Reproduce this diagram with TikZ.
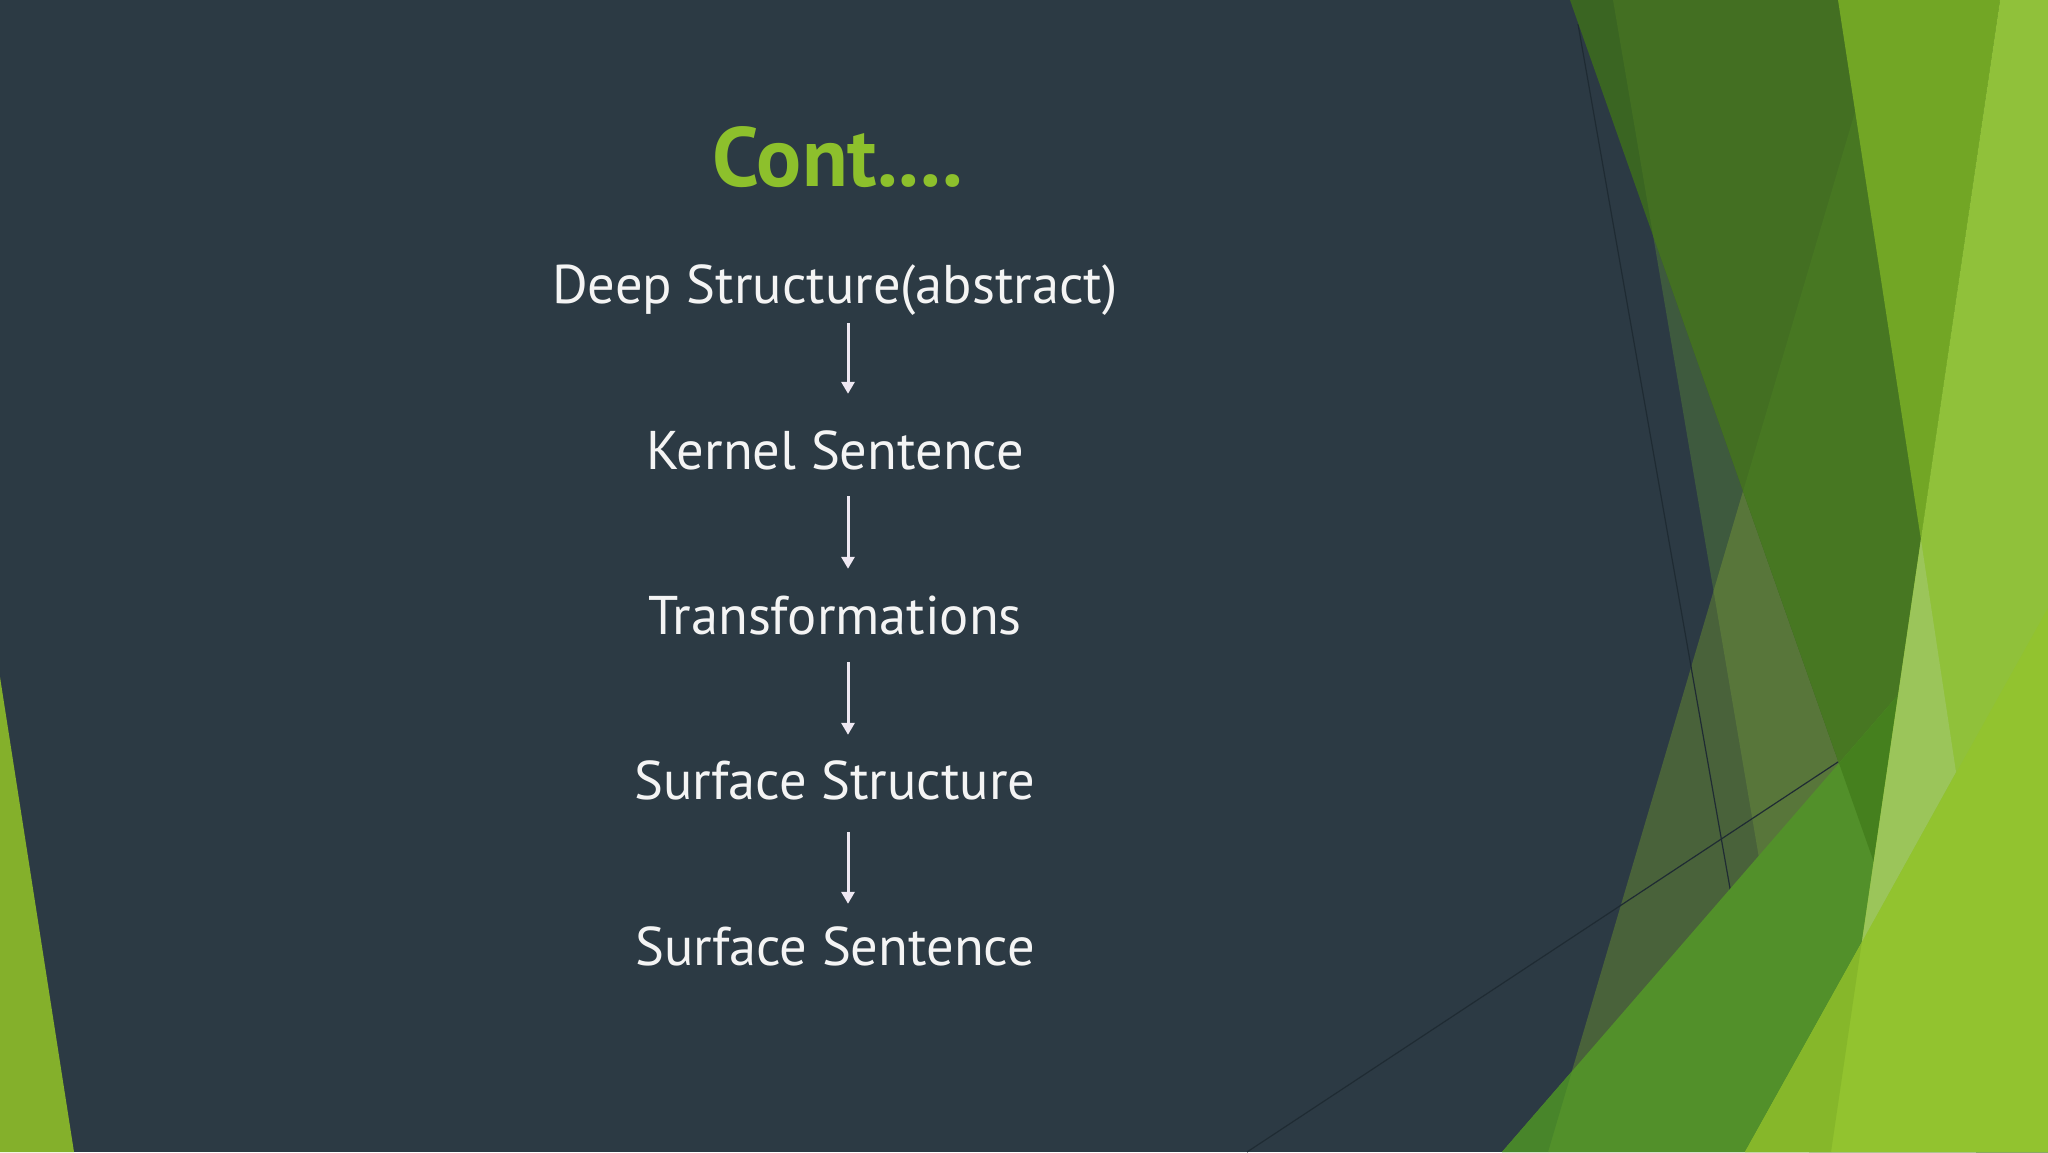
\documentclass[tikz,border=0pt]{standalone}
\usepackage{fontspec}
\setmainfont{PT Sans}
\usepackage{tikz}
\usetikzlibrary{arrows.meta,calc}
\definecolor{slate}{HTML}{2C3A44}
\definecolor{leafL}{HTML}{84B02B}
\definecolor{veilB}{HTML}{3E5A3E}
\definecolor{veilL}{HTML}{49623A}
\definecolor{veilBL}{HTML}{58763A}
\definecolor{forestA}{HTML}{3A6522}
\definecolor{forestB}{HTML}{436F22}
\definecolor{forestC}{HTML}{477722}
\definecolor{grassG}{HTML}{52902A}
\definecolor{grassGL}{HTML}{48852A}
\definecolor{grassGA}{HTML}{45801E}
\definecolor{midM}{HTML}{72A625}
\definecolor{limeC}{HTML}{90C13A}
\definecolor{paleW}{HTML}{9BC55A}
\definecolor{limeT}{HTML}{92C32F}
\definecolor{limeTC}{HTML}{86B72A}
\definecolor{titlegreen}{HTML}{8DC02C}
\definecolor{txtwhite}{HTML}{F4F4F4}
\definecolor{arrowwhite}{HTML}{EEE8F2}
\definecolor{hairline}{HTML}{1F2B33}

\begin{document}
\begin{tikzpicture}[x=1pt,y=-1pt,
  title/.style={text=titlegreen,font=\fontsize{84}{96}\selectfont\bfseries,anchor=base,inner sep=0},
  item/.style={text=txtwhite,font=\fontsize{54.5}{62}\selectfont,anchor=base,inner sep=0,
    text height=40pt,text depth=14pt},
  flow/.style={draw=arrowwhite,line width=3pt,-{Triangle[width=13pt,length=12pt]}},
  hair/.style={draw=hairline,line width=1.2pt}]
\useasboundingbox (0,0) rectangle (2048,1152);
\fill[slate] (0,0) rectangle (2048,1152);
\fill[leafL] (0,677) -- (74,1152) -- (0,1152) -- cycle;

\fill[veilB] (1613,0) -- (1809,1152) -- (2048,1152) -- (2048,0) -- cycle;
\fill[veilL] (1888,0) -- (1548,1152) -- (2048,1152) -- (2048,0) -- cycle;
\begin{scope}
\clip (1613,0) -- (1809,1152) -- (2048,1152) -- (2048,0) -- cycle;
\fill[veilBL] (1888,0) -- (1548,1152) -- (2048,1152) -- (2048,0) -- cycle;
\end{scope}
\draw[hair] (1578,24) -- (1731,894);
\draw[hair] (1247,1152) -- (1841,760);
\fill[forestA] (1570,0) -- (1976,1152) -- (2048,1152) -- (2048,0) -- cycle;
\begin{scope}
\clip (1570,0) -- (1976,1152) -- (2048,1152) -- (2048,0) -- cycle;
\fill[forestB] (1613,0) -- (1809,1152) -- (2048,1152) -- (2048,0) -- cycle;
\fill[forestC] (1888,0) -- (1548,1152) -- (2048,1152) -- (2048,0) -- cycle;
\end{scope}

\fill[grassG] (2048,522) -- (1502,1152) -- (2048,1152) -- cycle;
\begin{scope}
\clip (2048,522) -- (1502,1152) -- (2048,1152) -- cycle;
\fill[grassGL] (0,0) -- (1888,0) -- (1548,1152) -- (0,1152) -- cycle;
\fill[grassGA] (1570,0) -- (1976,1152) -- (2048,1152) -- (2048,0) -- cycle;
\end{scope}

\fill[midM] (1838,0) -- (2000,0) -- (1921,540) -- cycle;
\fill[limeC] (2000,0) -- (2048,0) -- (2048,1152) -- (1831,1152) -- cycle;
\fill[paleW] (1921,540) -- (1956,772) -- (1862,942) -- cycle;
\fill[limeT] (2048,608) -- (2048,1152) -- (1745,1152) -- cycle;
\begin{scope}
\clip (2048,608) -- (2048,1152) -- (1745,1152) -- cycle;
\fill[limeTC] (0,0) -- (2000,0) -- (1831,1152) -- (0,1152) -- cycle;
\end{scope}

\node[title] (title) at (838,186) {Cont....};
\node[item] (deep) at (835,303) {Deep Structure(abstract)};
\node[item] (kernel) at (835,469) {Kernel Sentence};
\node[item] (trans) at (835,634) {Transformations};
\node[item] (sstruct) at (835,799) {Surface Structure};
\node[item] (ssent) at (835,965) {Surface Sentence};
\foreach \a/\b/\s/\e in {deep/kernel/6/35,kernel/trans/13/25,trans/sstruct/14/24,sstruct/ssent/19/21}
  \draw[flow,shorten <=\s pt,shorten >=\e pt] ([xshift=13pt]\a.south) -- ([xshift=13pt]\b.north);
\end{tikzpicture}
\end{document}
